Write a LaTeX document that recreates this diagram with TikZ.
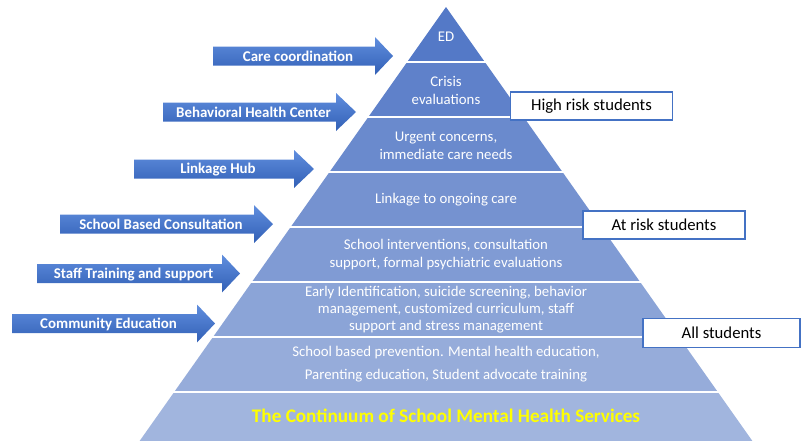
\documentclass[tikz,border=0pt]{standalone}
\usepackage{fontspec}
\setmainfont{Carlito}
\usetikzlibrary{calc}
\definecolor{boxblue}{RGB}{68,114,196}
\definecolor{arrtop}{RGB}{96,142,222}
\definecolor{arrbot}{RGB}{50,96,182}
\definecolor{titleyellow}{RGB}{255,255,0}
\tikzset{
  bandtext/.style={text=white, font=\fontsize{14.8}{17.5}\selectfont, align=center, inner sep=0pt},
  arrowtext/.style={text=white, font=\fontsize{14.9}{16}\selectfont\bfseries, inner sep=0pt},
  riskbox/.style={draw=boxblue, line width=1.8pt, fill=white, text=black, font=\fontsize{16.7}{19}\selectfont, inner sep=0pt},
}
\newcommand\blockarrow[6]{% name, left x, center y, head start x, tip x, label
  \shade[top color=arrtop, bottom color=arrbot]
    (#2,-#3+9.5) -- (#4,-#3+9.5) -- (#4,-#3+19) -- (#5,-#3) -- (#4,-#3-19)
    -- (#4,-#3-9.5) -- (#2,-#3-9.5) -- cycle;
  \node[arrowtext] (#1) at ({(#2+#4)/2+4},-#3-0.8) {#6};
}
\begin{document}
\begin{tikzpicture}[x=1pt,y=1pt]
\useasboundingbox (0,0) rectangle (802,-440);
% pyramid bands
\foreach \i in {0,...,7}{
  \pgfmathsetmacro\yt{7+55*\i}
  \pgfmathsetmacro\yb{7+55*(\i+1)}
  \pgfmathsetmacro\wt{0.706*(\yt-7)}
  \pgfmathsetmacro\wb{0.706*(\yb-7)}
  \pgfmathtruncatemacro\rr{84+11*\i}
  \pgfmathtruncatemacro\gg{121+8.6*\i}
  \pgfmathtruncatemacro\bb{199+3.3*\i}
  \definecolor{bandc}{RGB}{\rr,\gg,\bb}
  \fill[bandc] (446-\wt,-\yt) -- (446+\wt,-\yt) -- (446+\wb,-\yb) -- (446-\wb,-\yb) -- cycle;
  \ifnum\i>0
    \draw[white, line width=1.6pt] (446-\wt-2,-\yt) -- (446+\wt+2,-\yt);
  \fi
}
% band texts
\node[bandtext] (ed) at (446,-36.5) {ED};
\node[bandtext] (crisis) at (446,-90.5) {Crisis\\evaluations};
\node[bandtext] (urgent) at (446,-146) {Urgent concerns,\\immediate care needs};
\node[bandtext] (linkage) at (446,-199.5) {Linkage to ongoing care};
\node[bandtext] (interv) at (446,-254.5) {School interventions, consultation\\support, formal psychiatric evaluations};
\node[bandtext, font=\fontsize{14.8}{17}\selectfont] (early) at (446,-309.5) {Early Identification, suicide screening, behavior\\management, customized curriculum, staff\\support and stress management};
\node[bandtext, font=\fontsize{14.8}{23}\selectfont] (prev) at (446,-364) {School based prevention. Mental health education,\\Parenting education, Student advocate training};
\node[text=titleyellow, font=\fontsize{19.2}{22}\selectfont\bfseries, inner sep=0pt] (title) at (446,-416) {The Continuum of School Mental Health Services};
% arrows
\blockarrow{care}{213}{56}{375}{393}{Care coordination}
\blockarrow{bhc}{163}{112}{336}{356}{Behavioral Health Center}
\blockarrow{hub}{134}{169}{294}{314}{Linkage Hub}
\blockarrow{sbc}{60}{224}{254}{273}{School Based Consultation}
\blockarrow{staff}{37}{273.5}{222}{240}{Staff Training and support}
\blockarrow{comm}{12}{323.5}{197}{215}{Community Education}
% risk boxes
\node[riskbox, minimum width=162pt, minimum height=28pt] (high) at (591.5,-106) {High risk students};
\node[riskbox, minimum width=162pt, minimum height=28pt] (atrisk) at (664,-225) {At risk students};
\node[riskbox, minimum width=157pt, minimum height=29pt] (all) at (721.5,-333) {All students};
\end{tikzpicture}
\end{document}
